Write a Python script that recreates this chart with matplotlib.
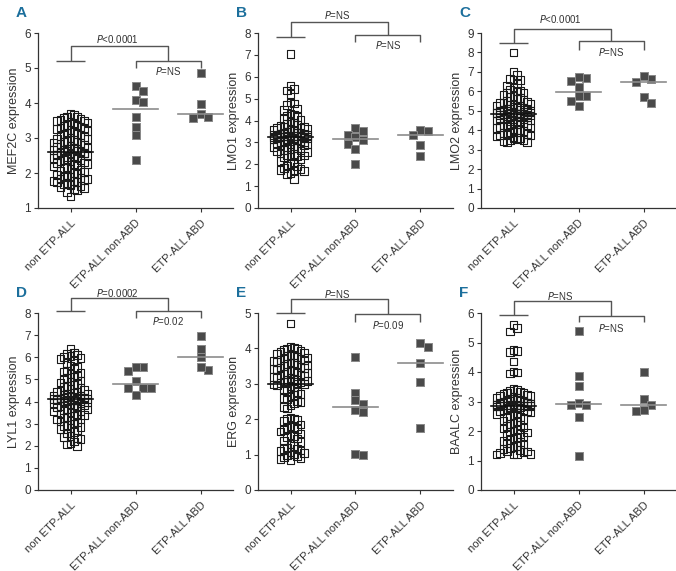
import numpy as np
import matplotlib
matplotlib.use("Agg")
import matplotlib.pyplot as plt

plt.rcParams['font.family'] = ['Liberation Sans Narrow', 'Liberation Sans', 'DejaVu Sans']
plt.rcParams['mathtext.fontset'] = 'custom'
plt.rcParams['mathtext.it'] = 'Liberation Sans Narrow:italic'
plt.rcParams['mathtext.rm'] = 'Liberation Sans Narrow'

# ---------- DATA ----------
groups = ["non ETP-ALL", "ETP-ALL non-ABD", "ETP-ALL ABD"]

mef2c_non = [3.68, 3.65, 3.61, 3.6, 3.57, 3.55, 3.52, 3.5, 3.49, 3.46, 3.44, 3.41, 3.38, 3.36, 3.35,
             3.31, 3.3, 3.27, 3.25, 3.22, 3.2, 3.18, 3.16, 3.12, 3.1, 3.08, 3.05, 3.03, 3.0, 2.98,
             2.97, 2.94, 2.92, 2.9, 2.88, 2.87, 2.85, 2.82, 2.8, 2.79, 2.77, 2.75, 2.73, 2.72, 2.7,
             2.69, 2.68, 2.66, 2.65, 2.64, 2.63, 2.62, 2.61, 2.6, 2.6,
             2.59, 2.58, 2.57, 2.56, 2.55, 2.53, 2.52, 2.5, 2.49, 2.47, 2.45, 2.44, 2.42, 2.4, 2.38,
             2.36, 2.35, 2.33, 2.3, 2.28, 2.26, 2.24, 2.21, 2.19, 2.16, 2.14, 2.11, 2.08, 2.06, 2.03,
             2.0, 1.98, 1.96, 1.93, 1.9, 1.88, 1.86, 1.84, 1.82, 1.8, 1.78, 1.77, 1.75, 1.73, 1.71,
             1.69, 1.67, 1.65, 1.63, 1.6, 1.58, 1.55, 1.52, 1.45, 1.33]
mef2c_nonabd = [4.49, 4.35, 4.1, 4.03, 3.61, 3.32, 3.08, 2.38]
mef2c_abd = [4.87, 3.97, 3.70, 3.56, 3.61]

lmo1_non = [7.05, 5.6, 5.45, 5.38, 5.2, 4.82, 4.78, 4.72, 4.55, 4.48, 4.32, 4.25, 4.2, 4.15, 4.08,
            4.02, 3.95, 3.9, 3.85, 3.8, 3.76, 3.72, 3.7, 3.67, 3.65, 3.62, 3.6, 3.58, 3.56, 3.54,
            3.52, 3.5, 3.48, 3.46, 3.45, 3.43, 3.42, 3.4, 3.39, 3.38, 3.37, 3.36, 3.35, 3.34, 3.33,
            3.32, 3.31, 3.3, 3.29, 3.28, 3.28, 3.27, 3.26, 3.26, 3.25,
            3.24, 3.23, 3.22, 3.21, 3.2, 3.19, 3.18, 3.17, 3.16, 3.15, 3.14, 3.12, 3.1, 3.09, 3.07,
            3.05, 3.03, 3.01, 2.99, 2.97, 2.95, 2.92, 2.9, 2.88, 2.85, 2.82, 2.8, 2.77, 2.74, 2.7,
            2.66, 2.62, 2.58, 2.55, 2.5, 2.46, 2.42, 2.4, 2.37, 2.35, 2.3, 2.22, 2.15, 2.08, 2.0,
            1.95, 1.9, 1.82, 1.78, 1.75, 1.72, 1.68, 1.6, 1.55, 1.32]
lmo1_nonabd = [3.64, 3.53, 3.33, 3.25, 3.1, 2.93, 2.7, 2.0]
lmo1_abd = [3.56, 3.33, 3.53, 2.9, 2.38]

lmo2_non = [8.0, 7.0, 6.85, 6.62, 6.6, 6.58, 6.4, 6.3, 6.2, 6.1, 6.05, 6.0, 5.95, 5.9, 5.82,
            5.75, 5.7, 5.65, 5.6, 5.55, 5.5, 5.47, 5.43, 5.4, 5.37, 5.33, 5.3, 5.27, 5.24, 5.21,
            5.18, 5.15, 5.13, 5.11, 5.09, 5.07, 5.05, 5.03, 5.01, 5.0, 4.98, 4.97, 4.96, 4.95, 4.94,
            4.93, 4.92, 4.91, 4.9, 4.89, 4.88, 4.87, 4.86, 4.86, 4.85,
            4.84, 4.83, 4.82, 4.81, 4.8, 4.79, 4.78, 4.76, 4.75, 4.73, 4.71, 4.7, 4.68, 4.66, 4.64,
            4.62, 4.6, 4.58, 4.55, 4.52, 4.5, 4.47, 4.44, 4.41, 4.38, 4.35, 4.32, 4.3, 4.27, 4.24,
            4.2, 4.17, 4.13, 4.1, 4.06, 4.02, 3.98, 3.95, 3.92, 3.88, 3.85, 3.82, 3.78, 3.75, 3.72,
            3.68, 3.65, 3.6, 3.57, 3.53, 3.5, 3.47, 3.45, 3.4, 3.36]
lmo2_nonabd = [6.67, 6.76, 6.53, 6.23, 5.75, 5.75, 5.49, 5.26]
lmo2_abd = [6.62, 6.5, 6.79, 5.71, 5.4]

lyl1_non = [6.4, 6.22, 6.15, 6.1, 6.05, 6.0, 5.97, 5.92, 5.85, 5.75, 5.62, 5.55, 5.48, 5.4, 5.35,
            5.3, 5.25, 5.18, 5.1, 5.05, 5.0, 4.95, 4.9, 4.85, 4.8, 4.75, 4.7, 4.65, 4.6, 4.56,
            4.52, 4.48, 4.45, 4.42, 4.39, 4.36, 4.33, 4.3, 4.28, 4.26, 4.24, 4.22, 4.2, 4.19, 4.18,
            4.17, 4.16, 4.15, 4.14, 4.13, 4.12, 4.12, 4.11, 4.1, 4.1,
            4.09, 4.08, 4.07, 4.06, 4.05, 4.04, 4.03, 4.02, 4.0, 3.98, 3.96, 3.94, 3.92, 3.9, 3.87,
            3.85, 3.82, 3.8, 3.77, 3.74, 3.7, 3.67, 3.64, 3.6, 3.57, 3.54, 3.5, 3.46, 3.42, 3.38,
            3.35, 3.3, 3.26, 3.22, 3.18, 3.14, 3.1, 3.05, 3.0, 2.95, 2.9, 2.85, 2.8, 2.75, 2.7,
            2.62, 2.55, 2.45, 2.4, 2.35, 2.3, 2.2, 2.1, 2.05, 2.0]
lyl1_nonabd = [5.58, 5.58, 5.38, 4.92, 4.62, 4.62, 4.62, 4.31]
lyl1_abd = [6.95, 6.38, 6.0, 5.43, 5.54]

erg_non = [4.7, 4.05, 4.02, 4.0, 3.98, 3.95, 3.92, 3.9, 3.88, 3.85, 3.82, 3.8, 3.78, 3.76, 3.74,
           3.72, 3.7, 3.68, 3.66, 3.64, 3.62, 3.6, 3.58, 3.56, 3.54, 3.52, 3.5, 3.48, 3.46, 3.44,
           3.42, 3.4, 3.38, 3.36, 3.34, 3.32, 3.3, 3.28, 3.26, 3.24, 3.22, 3.2, 3.18, 3.16, 3.14,
           3.12, 3.1, 3.09, 3.08, 3.07, 3.06, 3.05, 3.04, 3.02, 3.01,
           3.0, 2.98, 2.95, 2.92, 2.9, 2.87, 2.84, 2.8, 2.76, 2.72, 2.68, 2.64, 2.6, 2.56, 2.52,
           2.48, 2.44, 2.4, 2.35, 2.3,
           2.05, 2.02, 2.0, 1.98, 1.95, 1.85, 1.8, 1.78, 1.75, 1.72, 1.7, 1.65, 1.6, 1.55, 1.52,
           1.5, 1.45, 1.4, 1.35, 1.3, 1.25, 1.2, 1.17, 1.15, 1.12, 1.1, 1.08, 1.05, 1.0, 0.97,
           0.95, 0.92, 0.9, 0.88, 0.85]
erg_nonabd = [3.75, 2.75, 2.53, 2.43, 2.27, 2.2, 0.98, 1.01]
erg_abd = [4.15, 4.05, 3.58, 3.06, 1.75]

baalc_non = [5.6, 5.5, 5.37, 4.75, 4.72, 4.68, 4.36, 4.02, 3.98, 3.95, 3.42, 3.38, 3.35, 3.32, 3.3,
             3.28, 3.25, 3.22, 3.2, 3.18, 3.16, 3.14, 3.12, 3.1, 3.08, 3.06, 3.05, 3.04, 3.03, 3.02,
             3.01, 3.0, 2.99, 2.98, 2.97, 2.96, 2.95, 2.94, 2.93, 2.92, 2.91, 2.9, 2.9, 2.89, 2.89,
             2.88, 2.88, 2.87, 2.87, 2.86, 2.86, 2.86, 2.85, 2.85, 2.85,
             2.84, 2.83, 2.82, 2.81, 2.8, 2.78, 2.76, 2.74, 2.72, 2.7, 2.68, 2.66, 2.63, 2.6, 2.57,
             2.54, 2.5, 2.47, 2.44, 2.4, 2.36, 2.32, 2.28, 2.24, 2.2, 2.16, 2.12, 2.08, 2.05, 2.02,
             1.98, 1.95, 1.9, 1.86, 1.82, 1.78, 1.74, 1.7, 1.66, 1.62, 1.58, 1.54, 1.5, 1.46, 1.42,
             1.38, 1.35, 1.32, 1.3, 1.28, 1.25, 1.23, 1.22, 1.21, 1.2]
baalc_nonabd = [5.39, 3.87, 3.53, 2.95, 2.87, 2.87, 2.49, 1.15]
baalc_abd = [4.01, 3.09, 2.87, 2.69, 2.71]

letters = ["A", "B", "C", "D", "E", "F"]
ylabels = ["MEF2C expression", "LMO1 expression", "LMO2 expression",
           "LYL1 expression", "ERG expression", "BAALC expression"]
ylims = [(1, 6), (0, 8), (0, 9), (0, 8), (0, 5), (0, 6)]
p_top = ["<0.0001", "=NS", "<0.0001", "=0.0002", "=NS", "=NS"]
p_low = ["=NS", "=NS", "=NS", "=0.02", "=0.09", "=NS"]
# bracket heights: short line, top bar, lower bar, lower bar ends, top text, lower text
brackets = [(5.19, 5.62, 5.19, 5.0, 5.83, 4.92),
            (7.82, 8.5, 7.92, 7.59, 8.84, 7.47),
            (8.5, 9.23, 8.57, 8.15, 9.71, 8.0),
            (8.08, 8.69, 8.1, 7.77, 8.89, 7.62),
            (5.0, 5.39, 4.98, 4.75, 5.54, 4.66),
            (5.92, 6.4, 5.91, 5.68, 6.57, 5.48)]
panels = [(mef2c_non, mef2c_nonabd, mef2c_abd), (lmo1_non, lmo1_nonabd, lmo1_abd),
          (lmo2_non, lmo2_nonabd, lmo2_abd), (lyl1_non, lyl1_nonabd, lyl1_abd),
          (erg_non, erg_nonabd, erg_abd), (baalc_non, baalc_nonabd, baalc_abd)]
# --------------------------

W, H = 676, 571
fig = plt.figure(figsize=(W / 100, H / 100), dpi=100)
lefts_px = [38, 258, 481]
rows_px = [(33, 208), (313, 490)]   # (top, bottom) in pixels
AX_W = 195
MARK_PX = 7.5


def swarm(vals, ylim, ax_h, step_f, coll_h, max_off):
    """simple beeswarm: returns x offsets for vals (data units)"""
    xpp = 3.0 / AX_W
    ypp = (ylim[1] - ylim[0]) / ax_h
    w = MARK_PX * xpp * step_f
    h = MARK_PX * ypp * coll_h
    order = np.argsort(vals)[::-1]
    offs = np.zeros(len(vals))
    placed = []
    kmax = int(max_off / w)
    cands = [0]
    for k in range(1, kmax + 1):
        cands += [k, -k]
    for i in order:
        v = vals[i]
        best, best_n = 0, None
        for k in cands:
            x = k * w
            n = sum(1 for px, py in placed if abs(px - x) < w * 0.99 and abs(py - v) < h)
            if n == 0:
                best, best_n = x, 0
                break
            if best_n is None or n < best_n:
                best, best_n = x, n
        offs[i] = best
        placed.append((best, v))
    return offs


line_c = '#555555'
for idx in range(6):
    r, c = divmod(idx, 3)
    top, bot = rows_px[r]
    ax = fig.add_axes([lefts_px[c] / W, 1 - bot / H, AX_W / W, (bot - top) / H])
    ylim = ylims[idx]
    ax_h = bot - top
    non, nonabd, abd = panels[idx]

    for g, vals in enumerate([non, nonabd, abd]):
        vals = np.array(vals, dtype=float)
        xc = g + 1
        if g == 0:
            offs = swarm(vals, ylim, ax_h, 0.45, 1.0, 0.29)
            ax.scatter(xc + offs, vals, s=30, marker='s', facecolors='none',
                       edgecolors='#1a1a1a', linewidths=0.8, zorder=3, clip_on=False)
            mc = '#111111'
        else:
            offs = swarm(vals, ylim, ax_h, 1.0, 1.0, 0.3)
            ax.scatter(xc + offs, vals, s=32, marker='s', facecolors='#4a4a4a',
                       edgecolors='#8a8a8a', linewidths=0.7, zorder=3)
            mc = '#8c8c8c'
        med = np.median(vals)
        ax.plot([xc - 0.34, xc + 0.34], [med, med], color=mc, lw=1.2, zorder=4)

    # significance brackets
    h1, h2, h3, h4, t1, t2 = brackets[idx]
    kw = dict(color=line_c, lw=1.0, clip_on=False, solid_capstyle='butt')
    ax.plot([0.78, 1.22], [h1, h1], **kw)
    ax.plot([1, 1, 2.5, 2.5], [h1, h2, h2, h3], **kw)
    ax.plot([2, 2, 3, 3], [h4, h3, h3, h4], **kw)
    ax.text(1.72, t1, r'$\mathit{P}$' + p_top[idx], ha='center', va='center',
            fontsize=7, color='#333333', clip_on=False)
    ax.text(2.5, t2, r'$\mathit{P}$' + p_low[idx], ha='center', va='center',
            fontsize=7, color='#333333', clip_on=False)

    ax.set_xlim(0.5, 3.5)
    ax.set_ylim(*ylim)
    ax.set_yticks(np.arange(ylim[0], ylim[1] + 1, 1))
    ax.set_xticks([1, 2, 3])
    ax.set_xticklabels(groups, rotation=45, ha='right', rotation_mode='anchor')
    ax.tick_params(axis='both', direction='out', length=3, width=0.8, colors='#333333',
                   labelsize=8.5, pad=2)
    ax.tick_params(axis='x', labelsize=8, pad=4)
    ax.set_ylabel(ylabels[idx], fontsize=9, color='#333333', labelpad=3)
    for s in ['top', 'right']:
        ax.spines[s].set_visible(False)
    for s in ['left', 'bottom']:
        ax.spines[s].set_color('#333333')
        ax.spines[s].set_linewidth(0.9)

    fig.text((lefts_px[c] - 22) / W, 1 - (top - 20) / H, letters[idx], fontsize=11,
             fontweight='bold', color='#1c6f9c', ha='left', va='center')

fig.savefig("out.png", dpi=100)
